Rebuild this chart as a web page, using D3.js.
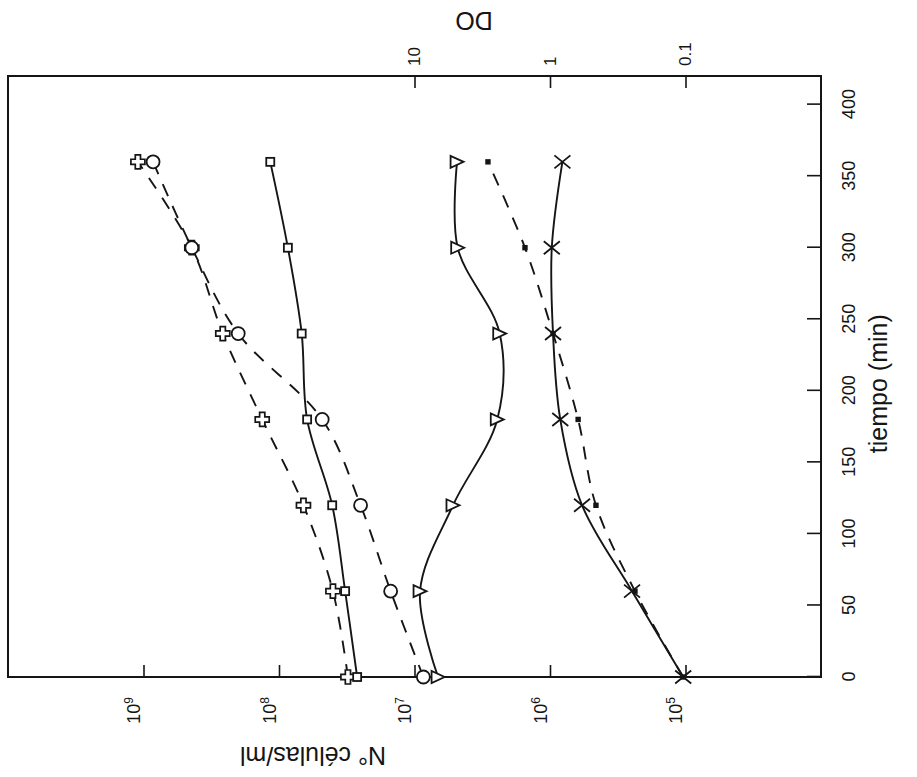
<!DOCTYPE html>
<html>
<head>
<meta charset="utf-8">
<script src="https://cdn.jsdelivr.net/npm/d3@7"></script>
<style>
  body { margin: 0; background: #fff; }
  svg text { font-family: "Liberation Sans", Arial, sans-serif; fill: #151515; }
</style>
</head>
<body>
<div id="chart"></div>
<script>
// tiempo (min)
const tiempo = [0, 60, 120, 180, 240, 300, 360];

// N° células/ml
const cruces     = [3.1e7, 4.0e7, 6.6e7, 1.33e8, 2.6e8, 4.4e8, 1.1e9];
const circulos   = [8.6e6, 1.5e7, 2.5e7, 4.8e7, 2.0e8, 4.4e8, 8.5e8];
const cuadrados  = [2.65e7, 3.25e7, 4.05e7, 6.2e7, 6.8e7, 8.6e7, 1.16e8];
const triangulos = [6.7e6, 9.1e6, 5.2e6, 2.45e6, 2.35e6, 4.8e6, 4.85e6];

// DO
const doPuntos = [0.104, 0.236, 0.458, 0.62, 0.95, 1.53, 2.87];
const doAspas  = [0.104, 0.248, 0.58, 0.84, 0.95, 0.97, 0.81];

// ticks
const tiempoTicks = [0, 50, 100, 150, 200, 250, 300, 350, 400];
const celTicks = [1e5, 1e6, 1e7, 1e8, 1e9];
const doTicks = [10, 1, 0.1];

// the figure is drawn the usual way and then turned a quarter turn to the left
const W = 601, H = 813;
const ink = "#151515";

const svg = d3.select("#chart").append("svg")
    .attr("width", 917)
    .attr("height", 777);

const g = svg.append("g")
    .attr("transform", "translate(8,677) rotate(-90)");

const x = d3.scaleLinear().domain([0, 420]).range([0, W]);
const y = d3.scaleLog().domain([1e10, 1e4]).range([0, H]);
const yDO = d3.scaleLog().domain([1e4, 1e-2]).range([0, H]);

// time axis
g.append("g")
    .attr("transform", `translate(0,${H})`)
    .call(d3.axisBottom(x).tickValues(tiempoTicks).tickSizeInner(-14).tickSizeOuter(0).tickPadding(21))
    .attr("font-size", 18)
    .call(a => a.select(".domain").remove())
    .call(a => a.selectAll("line").attr("stroke", ink).attr("stroke-width", 1.6));

// cells axis (10^n labels)
const axCel = g.append("g")
    .call(d3.axisLeft(y).tickValues(celTicks).tickSizeInner(-12).tickSizeOuter(0).tickPadding(20).tickFormat(""))
    .attr("font-size", 18)
    .call(a => a.select(".domain").remove())
    .call(a => a.selectAll("line").attr("stroke", ink).attr("stroke-width", 1.6));

axCel.selectAll(".tick text").each(function(d) {
    const t = d3.select(this).attr("dy", "-0.2em").text("10");
    t.append("tspan")
        .attr("dy", -7)
        .attr("font-size", 12)
        .text(Math.round(Math.log10(d)));
});

// DO axis
g.append("g")
    .attr("transform", `translate(${W},0)`)
    .call(d3.axisRight(yDO).tickValues(doTicks).tickSizeInner(-12).tickSizeOuter(0).tickPadding(10).tickFormat(d => String(d)))
    .attr("font-size", 17)
    .call(a => a.select(".domain").remove())
    .call(a => a.selectAll("line").attr("stroke", ink).attr("stroke-width", 1.6));

// frame
g.append("rect")
    .attr("width", W)
    .attr("height", H)
    .attr("fill", "none")
    .attr("stroke", ink)
    .attr("stroke-width", 2);

// axis titles
g.append("text")
    .attr("x", x(205))
    .attr("y", H + 66)
    .attr("text-anchor", "middle")
    .attr("font-size", 25)
    .text("tiempo (min)");

g.append("text")
    .attr("transform", `translate(-70,305) rotate(-90)`)
    .attr("text-anchor", "middle")
    .attr("font-size", 25)
    .text("N° células/ml");

g.append("text")
    .attr("transform", `translate(${W + 64},466) rotate(-90)`)
    .attr("text-anchor", "middle")
    .attr("font-size", 25)
    .text("DO");

// markers
const cruzPath = (() => {
    const a = 7, b = 2.6;
    return `M${-b},${-a}H${b}V${-b}H${a}V${b}H${b}V${a}H${-b}V${b}H${-a}V${-b}H${-b}Z`;
})();

const marcadores = {
    cruz: s => s.append("path").attr("d", cruzPath)
        .attr("fill", "#fff").attr("stroke", ink).attr("stroke-width", 1.7),
    circulo: s => s.append("circle").attr("r", 6.5)
        .attr("fill", "#fff").attr("stroke", ink).attr("stroke-width", 1.8),
    cuadrado: s => s.append("rect").attr("x", -4).attr("y", -4).attr("width", 8).attr("height", 8)
        .attr("fill", "#fff").attr("stroke", ink).attr("stroke-width", 1.8),
    triangulo: s => s.append("path").attr("d", "M-6,-6.5L6,-6.5L0,6.5Z")
        .attr("fill", "#fff").attr("stroke", ink).attr("stroke-width", 1.8),
    punto: s => s.append("rect").attr("x", -2.7).attr("y", -2.7).attr("width", 5.4).attr("height", 5.4)
        .attr("fill", ink),
    aspa: s => s.append("path").attr("d", "M-6.5,-8L6.5,8M-6.5,8L6.5,-8")
        .attr("fill", "none").attr("stroke", ink).attr("stroke-width", 1.8)
};

const series = [
    { vals: cruces, scale: y, dash: true, marker: "cruz" },
    { vals: circulos, scale: y, dash: true, marker: "circulo" },
    { vals: cuadrados, scale: y, dash: false, marker: "cuadrado" },
    { vals: triangulos, scale: y, dash: false, marker: "triangulo" },
    { vals: doPuntos, scale: yDO, dash: true, marker: "punto" },
    { vals: doAspas, scale: yDO, dash: false, marker: "aspa" }
];

series.forEach(s => {
    const pts = tiempo.map((t, i) => ({ t: t, v: s.vals[i] }));
    const line = d3.line()
        .x(d => x(d.t))
        .y(d => s.scale(d.v))
        .curve(d3.curveCatmullRom.alpha(0.5));

    g.append("path")
        .datum(pts)
        .attr("d", line)
        .attr("fill", "none")
        .attr("stroke", ink)
        .attr("stroke-width", 1.9)
        .attr("stroke-dasharray", s.dash ? "13,11" : null);

    s.pts = pts;
});

series.forEach(s => {
    g.selectAll(null)
        .data(s.pts)
        .enter()
        .append("g")
        .attr("transform", d => `translate(${x(d.t)},${s.scale(d.v)})`)
        .each(function() { marcadores[s.marker](d3.select(this)); });
});
</script>
</body>
</html>
